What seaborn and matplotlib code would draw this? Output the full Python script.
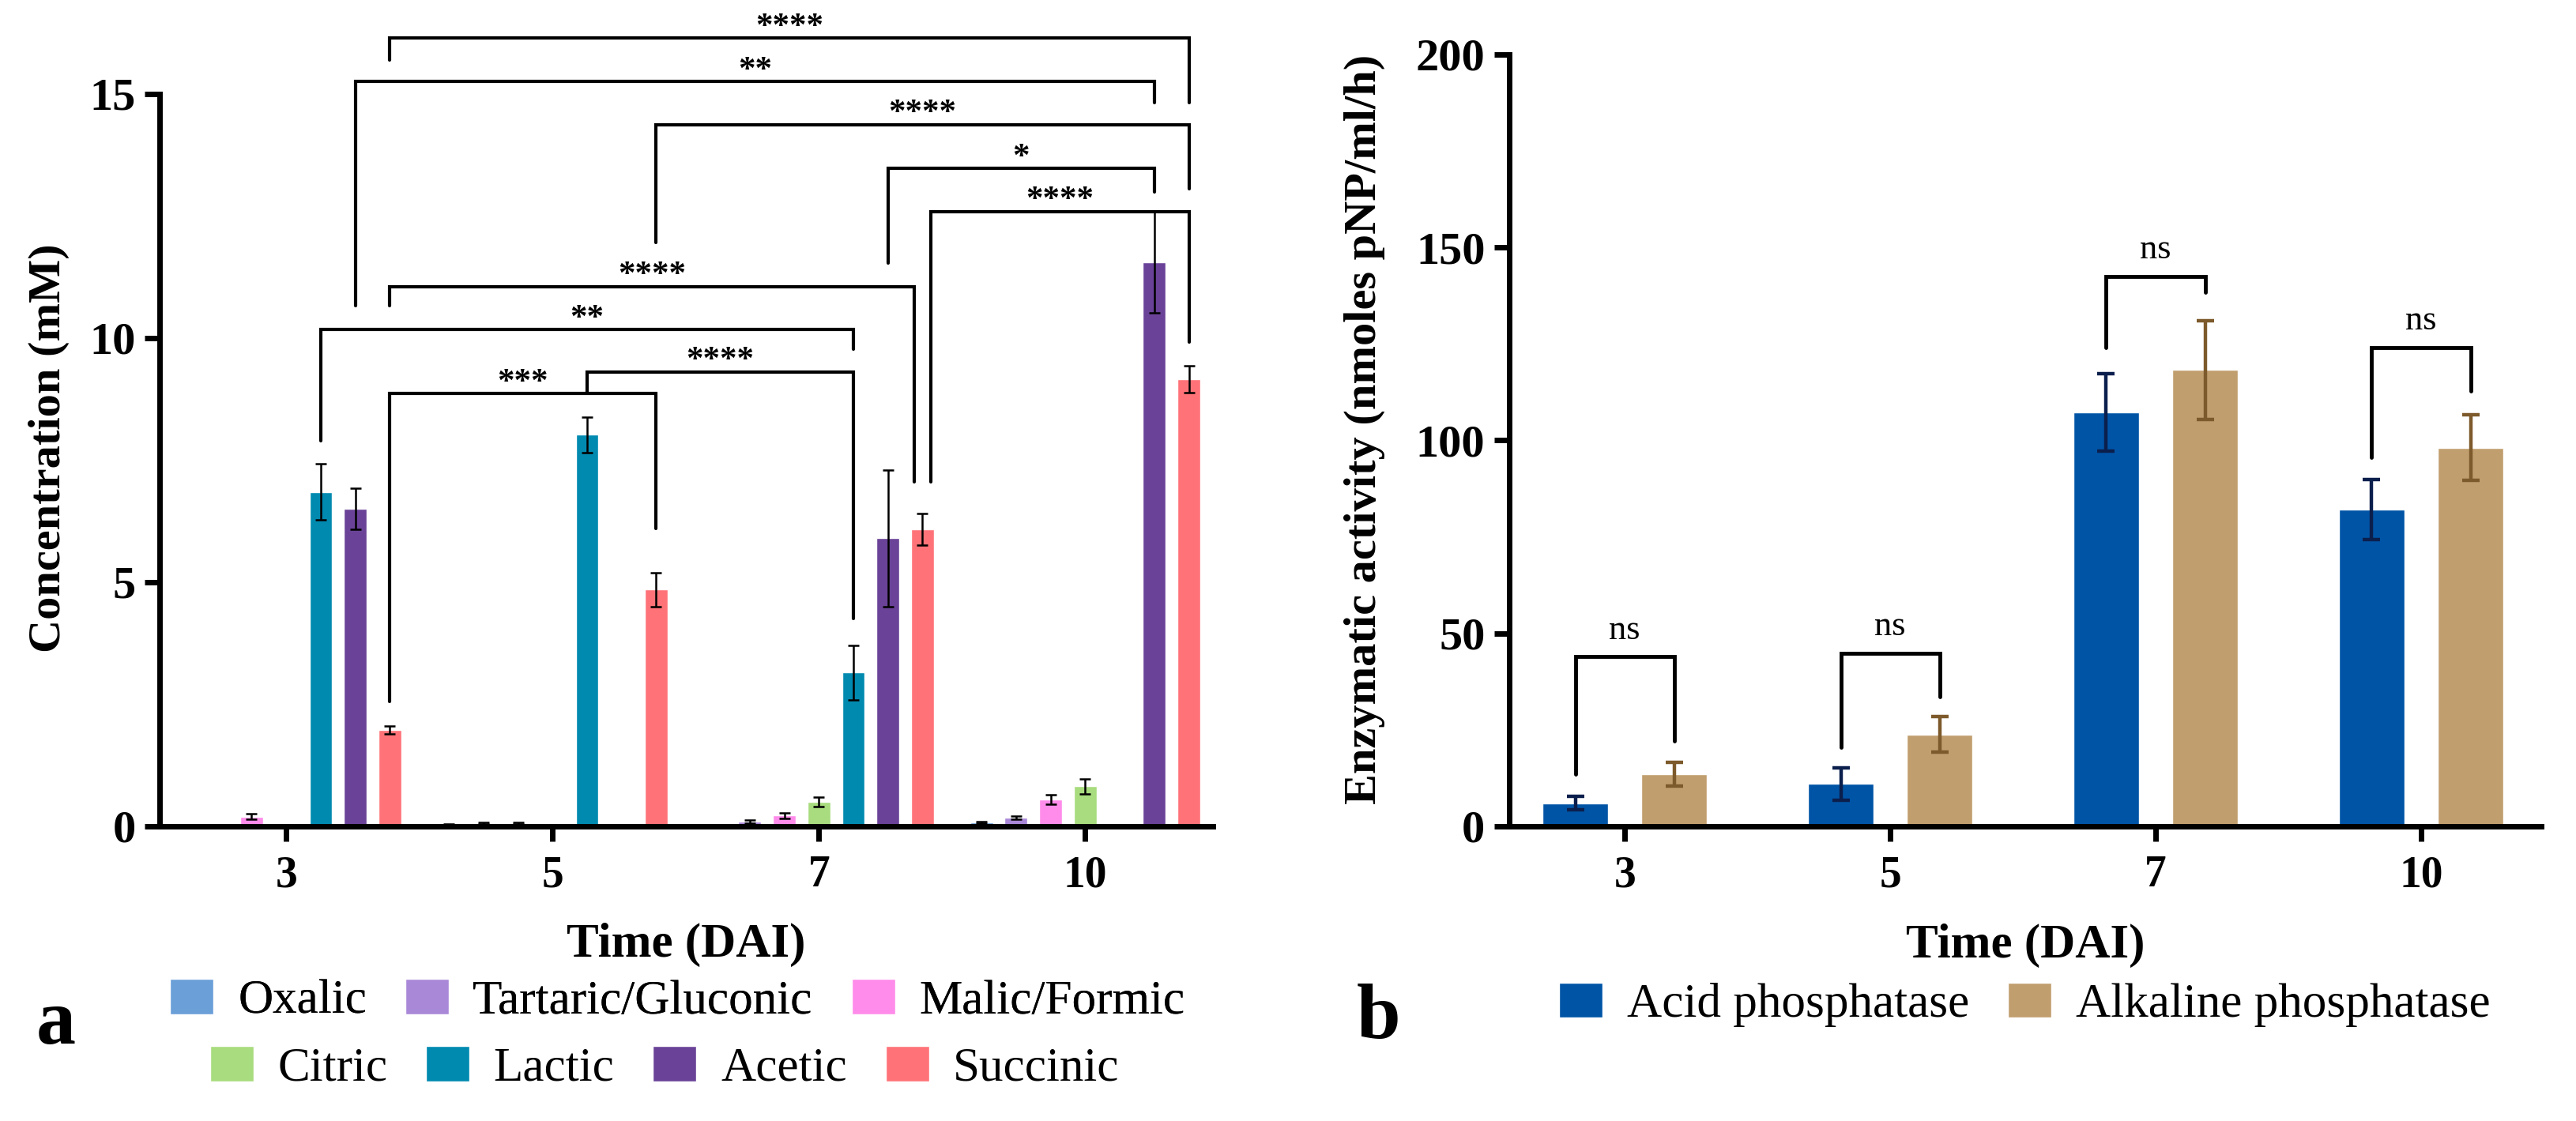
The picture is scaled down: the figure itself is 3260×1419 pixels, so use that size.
import numpy as np
import pandas as pd
import matplotlib
matplotlib.use("Agg")
import matplotlib.pyplot as plt
from matplotlib.patches import Patch
import seaborn as sns

# Données
days = ["3", "5", "7", "10"]

acids = ["Oxalic", "Tartaric/Gluconic", "Malic/Formic", "Citric", "Lactic", "Acetic", "Succinic"]
oxalic = [0.02, 0.03, 0.02, 0.08]
tartaric = [0.03, 0.06, 0.10, 0.18]
malic = [0.20, 0.06, 0.22, 0.55]
citric = [0.0, 0.0, 0.50, 0.82]
lactic = [6.85, 8.02, 3.15, 0.0]
acetic = [6.50, 0.0, 5.90, 11.55]
succinic = [1.97, 4.85, 6.08, 9.16]

oxalic_err = [0.0, 0.01, 0.0, 0.02]
tartaric_err = [0.0, 0.02, 0.03, 0.03]
malic_err = [0.05, 0.02, 0.06, 0.10]
citric_err = [0.0, 0.0, 0.10, 0.15]
lactic_err = [0.58, 0.36, 0.56, 0.0]
acetic_err = [0.42, 0.0, 1.40, 1.03]
succinic_err = [0.08, 0.35, 0.32, 0.28]

enzymes = ["Acid phosphatase", "Alkaline phosphatase"]
acid_p = [6.0, 11.0, 107.2, 82.1]
alk_p = [13.5, 23.8, 118.3, 98.1]
acid_p_err = [1.8, 4.2, 10.0, 7.7]
alk_p_err = [3.0, 4.6, 12.8, 8.5]

# Comparaisons (acide a, jour a, acide b, jour b, hauteur, pied a, pied b, étiquette)
left_brackets = [
    ("Succinic", "3", "Succinic", "10", 16.14, 15.69, 14.82, "****", 0, 0),
    ("Acetic", "3", "Acetic", "10", 15.25, 10.67, 14.82, "**", 0, 0),
    ("Succinic", "5", "Succinic", "10", 14.37, 11.95, 13.05, "****", 0, 0),
    ("Acetic", "7", "Acetic", "10", 13.47, 11.54, 13.00, "*", 0, 0),
    ("Succinic", "7", "Succinic", "10", 12.59, 7.05, 9.92, "****", 0.032, 0),
    ("Succinic", "3", "Succinic", "7", 11.05, 10.67, 7.05, "****", 0, -0.032),
    ("Lactic", "3", "Lactic", "7", 10.17, 7.90, 9.78, "**", 0, 0),
    ("Lactic", "5", "Lactic", "7", 9.30, 8.86, 4.25, "****", 0, 0),
    ("Succinic", "3", "Succinic", "5", 8.86, 2.56, 6.10, "***", 0, 0),
]
right_brackets = [
    ("3", 43.9, 13.5, 22.0),
    ("5", 44.9, 20.5, 33.6),
    ("7", 142.4, 124.1, 138.3),
    ("10", 124.1, 95.6, 112.8),
]

acid_colors = ["#6A9FD8", "#AA88D8", "#FF8CEB", "#A8DC7E", "#008AB0", "#6A4398", "#FF7378"]
enz_colors = ["#0054A6", "#C19E6E"]
enz_err_colors = ["#0B1F4D", "#7D5A2B"]

sns.set_style("ticks")
plt.rcParams["font.family"] = ["Liberation Serif", "DejaVu Serif"]
plt.rcParams.update({"text.color": "black", "axes.labelcolor": "black",
                     "xtick.color": "black", "ytick.color": "black",
                     "axes.edgecolor": "black"})

# Tableaux longs pour seaborn
acid_vals = [oxalic, tartaric, malic, citric, lactic, acetic, succinic]
acid_errs = [oxalic_err, tartaric_err, malic_err, citric_err, lactic_err, acetic_err, succinic_err]
df_a = pd.DataFrame({
    "day": np.tile(days, len(acids)),
    "acid": np.repeat(acids, len(days)),
    "conc": np.concatenate(acid_vals),
})
df_b = pd.DataFrame({
    "day": np.tile(days, 2),
    "enzyme": np.repeat(enzymes, len(days)),
    "act": np.concatenate([acid_p, alk_p]),
})

fig = plt.figure(figsize=(32.6, 14.19), dpi=100)
ax1 = fig.add_axes([0.0620, 0.2629, 0.4089, 0.6533])
ax2 = fig.add_axes([0.5859, 0.2629, 0.4006, 0.6885])

sns.barplot(data=df_a, x="day", y="conc", hue="acid", order=days, hue_order=acids,
            palette=acid_colors, width=0.908, gap=0.34, errorbar=None, legend=False,
            saturation=1, ax=ax1)
sns.barplot(data=df_b, x="day", y="act", hue="enzyme", order=days, hue_order=enzymes,
            palette=enz_colors, width=0.746, gap=0.34, errorbar=None, legend=False,
            saturation=1, ax=ax2)

# Centres des barres depuis les patches seaborn
centers_a = {}
for i, a in enumerate(acids):
    for j, d in enumerate(days):
        p = ax1.patches[i * len(days) + j]
        centers_a[(a, d)] = p.get_x() + p.get_width() / 2
centers_b = {}
for i, e in enumerate(enzymes):
    for j, d in enumerate(days):
        p = ax2.patches[i * len(days) + j]
        centers_b[(e, d)] = p.get_x() + p.get_width() / 2

# Barres d'erreur
for i, a in enumerate(acids):
    for j, d in enumerate(days):
        v = acid_vals[i][j]
        if v > 0:
            ax1.errorbar(centers_a[(a, d)], v, yerr=acid_errs[i][j], fmt="none",
                         ecolor="black", elinewidth=1.8, capsize=5, capthick=1.8, zorder=4)
enz_vals = [acid_p, alk_p]
enz_errs = [acid_p_err, alk_p_err]
for i, e in enumerate(enzymes):
    for j, d in enumerate(days):
        ax2.errorbar(centers_b[(e, d)], enz_vals[i][j], yerr=enz_errs[i][j], fmt="none",
                     ecolor=enz_err_colors[i], elinewidth=3.2, capsize=8, capthick=3.2, zorder=4)

# Crochets de significativité
for a1, d1, a2, d2, h, la, lb, lab, dxa, dxb in left_brackets:
    xa = centers_a[(a1, d1)] + dxa
    xb = centers_a[(a2, d2)] + dxb
    ax1.plot([xa, xa, xb, xb], [la, h, h, lb], color="black", lw=3, clip_on=False,
             solid_joinstyle="miter", zorder=5)
    ax1.text((xa + xb) / 2, h + 0.06, lab, ha="center", va="baseline", fontsize=31,
             fontweight="bold", clip_on=False)

for d, h, la, lb in right_brackets:
    xa = centers_b[(enzymes[0], d)]
    xb = centers_b[(enzymes[1], d)]
    ax2.plot([xa, xa, xb, xb], [la, h, h, lb], color="black", lw=3.5,
             solid_joinstyle="miter", zorder=5)
    ax2.text((xa + xb) / 2, h + 4.7, "ns", ha="center", va="baseline", fontsize=32)

# Axes
for ax in (ax1, ax2):
    sns.despine(ax=ax)
    for s in ("left", "bottom"):
        ax.spines[s].set_linewidth(5)
    ax.tick_params(axis="both", width=5, length=14, labelsize=40, pad=8)
    ax.tick_params(axis="x", pad=12)

ax1.set_xlim(-0.475, 3.48)
ax1.set_ylim(0, 15)
ax1.set_yticks([0, 5, 10, 15])
ax2.set_xlim(-0.435, 3.452)
ax2.set_ylim(0, 200)
ax2.set_yticks([0, 50, 100, 150, 200])
for ax in (ax1, ax2):
    for t in ax.get_xticklabels():
        t.set_fontweight("bold")
    for t in ax.get_yticklabels():
        t.set_fontweight("bold")
        t.set_fontsize(42)

ax1.set_xlabel("Time (DAI)", fontsize=44, fontweight="bold")
ax1.set_ylabel("Concentration (mM)", fontsize=42, fontweight="bold")
ax2.set_xlabel("Time (DAI)", fontsize=44, fontweight="bold")
ax2.set_ylabel("Enzymatic activity (nmoles pNP/ml/h)", fontsize=42, fontweight="bold")
ax1.xaxis.set_label_coords(0.5, -0.162)
ax2.xaxis.set_label_coords(0.5, -0.155)
ax1.xaxis.label.set_va("center")
ax2.xaxis.label.set_va("center")
ax1.yaxis.set_label_coords(-0.105, 0.516)
ax2.yaxis.set_label_coords(-0.140, 0.514)
ax1.yaxis.label.set_va("center")
ax2.yaxis.label.set_va("center")

# Légendes
leg_kw = dict(frameon=False, fontsize=44, handlelength=0.9, handleheight=0.75,
              handletextpad=0.5, columnspacing=0.8, borderaxespad=0, borderpad=0)
h_a = [Patch(facecolor=c, label=a) for a, c in zip(acids, acid_colors)]
leg1 = fig.legend(handles=h_a[:3], ncol=3, loc="center", bbox_to_anchor=(0.263, 0.107), **leg_kw)
fig.add_artist(leg1)
fig.legend(handles=h_a[3:], ncol=4, loc="center", bbox_to_anchor=(0.258, 0.047), **leg_kw)
h_b = [Patch(facecolor=c, label=e) for e, c in zip(enzymes, enz_colors)]
fig.legend(handles=h_b, ncol=2, loc="center", bbox_to_anchor=(0.786, 0.1036), **leg_kw)

fig.text(0.0218, 0.086, "a", fontsize=72, fontweight="bold", ha="center", va="center")
fig.text(0.535, 0.091, "b", fontsize=72, fontweight="bold", ha="center", va="center")

fig.savefig("out.png", dpi=100)
